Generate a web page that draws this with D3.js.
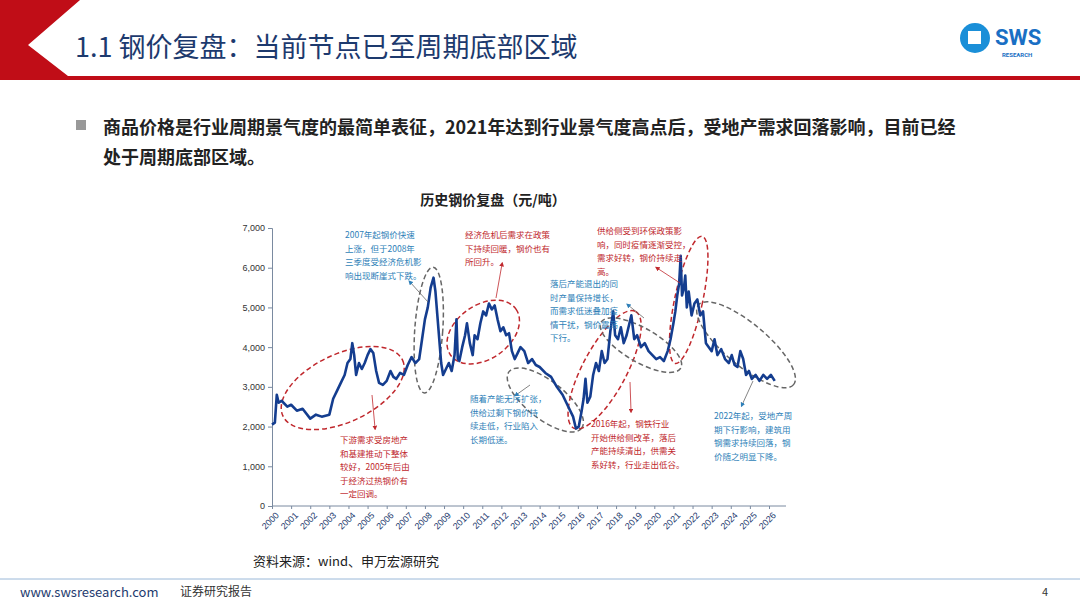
<!DOCTYPE html>
<html><head><meta charset="utf-8">
<script src="https://cdn.jsdelivr.net/npm/d3@7"></script>
<style>body{margin:0;background:#fff}svg{display:block;font-family:"Noto Sans CJK SC","Noto Sans",sans-serif}</style>
</head><body>
<script>
// Price series: [year offset, yuan/ton].
const years = [0,0.15,0.25,0.35,0.5,0.8,1.0,1.3,1.6,2.0,2.3,2.6,3.0,3.2,3.4,3.6,3.8,3.95,4.1,4.2,4.3,4.4,4.55,4.7,4.85,5.0,5.15,5.3,5.45,5.6,5.8,6.0,6.2,6.35,6.5,6.7,6.9,7.1,7.3,7.5,7.7,7.85,8.0,8.15,8.3,8.45,8.55,8.65,8.75,8.85,8.95,9.1,9.25,9.4,9.55,9.65,9.72,9.8,9.95,10.1,10.2,10.35,10.5,10.6,10.75,10.9,11.05,11.2,11.35,11.5,11.65,11.8,11.95,12.1,12.25,12.4,12.55,12.7,12.85,13.0,13.2,13.4,13.6,13.8,14.0,14.3,14.6,14.9,15.2,15.5,15.75,15.9,16.05,16.2,16.3,16.4,16.5,16.65,16.8,16.95,17.1,17.25,17.4,17.55,17.7,17.85,17.95,18.1,18.25,18.4,18.55,18.7,18.8,18.95,19.1,19.3,19.5,19.7,19.9,20.1,20.3,20.5,20.7,20.85,21.0,21.1,21.2,21.3,21.38,21.45,21.55,21.62,21.7,21.8,21.95,22.1,22.25,22.4,22.55,22.7,22.85,23.0,23.15,23.3,23.5,23.7,23.9,24.05,24.2,24.35,24.5,24.65,24.8,24.95,25.1,25.3,25.5,25.7,25.9,26.1,26.3];
const prices = [2050,2100,2800,2600,2650,2500,2550,2400,2450,2200,2300,2250,2300,2700,2900,3100,3300,3600,3700,4100,3800,3300,3600,3450,3600,3800,3950,3850,3400,3100,3050,3150,3400,3250,3200,3350,3300,3550,3750,3600,3700,4200,4700,5000,5500,5750,5400,4800,4200,3600,3300,3450,3600,3400,3800,4700,3700,3650,4000,4300,4600,4100,3800,4300,4200,4600,4900,4800,5100,4950,5050,4700,4400,4500,4300,4350,3900,3700,3850,4000,3900,3600,3700,3550,3500,3350,3250,3000,2800,2500,2250,1950,2000,2400,2700,3200,2600,2750,3300,3600,3400,3900,3600,3700,4400,4900,4300,4200,4500,4100,4300,4600,4800,4200,4300,4000,4100,3900,3800,3700,3750,3650,3900,4200,4600,4900,5300,5600,6300,5300,5500,5800,5000,5400,4800,5100,5200,4800,4900,4100,4000,3900,4200,3800,3950,3700,3600,3800,3550,3500,3900,3700,3300,3400,3200,3300,3150,3300,3200,3300,3150,3250,3100];
const yTicks = [0,1000,2000,3000,4000,5000,6000,7000];
const xYears = d3.range(2000, 2027);

// Dashed ellipses: [centre year offset, centre value, rx px, ry px, angle, colour]
const ellipses = [
  [3.7,2970,66,34,-25,"#c0282d"],
  [8.2,4430,14,63,4,"#666"],
  [11.05,4380,40,27,-35,"#c0282d"],
  [14.3,2670,46,19,38,"#666"],
  [17.4,3430,66,22,-62,"#c0282d"],
  [19.3,4050,46,17,30,"#666"],
  [21.8,5190,14,65,12,"#c0282d"],
  [24.8,4060,62,21,40,"#666"]
];

// Notes: x, y, colour, lines, arrow [x1,y1,x2,y2]
const notes = [
  [345,238,"#2e7fb8",["2007年起钢价快速","上涨，但于2008年","三季度受经济危机影","响出现断崖式下跌。"],[428,302,410,282]],
  [465,238,"#c0282d",["经济危机后需求在政策","下持续回暖，钢价也有","所回升。"],[496,298,502,264]],
  [597,234,"#c0282d",["供给侧受到环保政策影","响，同时疫情逐渐受控，","需求好转，钢价持续走","高。"],[680,283,657,268]],
  [550,287,"#2e7fb8",["落后产能退出的同","时产量保持增长，","而需求低迷叠加疫","情干扰，钢价震荡","下行。"],[644,318,628,305]],
  [340,443,"#c0282d",["下游需求受房地产","和基建推动下整体","较好，2005年后由","于经济过热钢价有","一定回调。"],[372,395,375,428]],
  [470,402,"#2e7fb8",["随着产能无序扩张，","供给过剩下钢价持","续走低，行业陷入","长期低迷。"],[530,385,516,395]],
  [591,427,"#c0282d",["2016年起，钢铁行业","开始供给侧改革，落后","产能持续清出，供需关","系好转，行业走出低谷。"],[630,382,631,411]],
  [714,419,"#2e7fb8",["2022年起，受地产周","期下行影响，建筑用","钢需求持续回落，钢","价随之明显下降。"],[753,381,742,405]]
];

const svg = d3.select("body").append("svg").attr("width", 1080).attr("height", 608);
const defs = svg.append("defs");
["#c0282d","#2e7fb8"].forEach((c, i) => {
  defs.append("marker").attr("id", "m" + i).attr("viewBox", "0 0 10 10")
    .attr("refX", 5).attr("refY", 5).attr("markerWidth", 6).attr("markerHeight", 6)
    .attr("orient", "auto").append("path").attr("d", "M0,0L10,5L0,10Z").attr("fill", c);
});

// Header
svg.append("path").attr("d", "M0,0 L80,0 L28,45 L68,76 L1080,76 L1080,80 L0,80 Z").attr("fill", "#c00d17");
svg.append("text").attr("x", 75).attr("y", 57).attr("font-size", 27).attr("fill", "#1d3a6e")
  .text("1.1 钢价复盘：当前节点已至周期底部区域");
svg.append("circle").attr("cx", 975).attr("cy", 38).attr("r", 15).attr("fill", "#1a8fd8");
svg.append("rect").attr("x", 968).attr("y", 31).attr("width", 13).attr("height", 13).attr("fill", "#fff");
svg.append("text").attr("x", 995).attr("y", 45).attr("font-size", 22).attr("font-weight", "bold")
  .attr("fill", "#1a6fc4").attr("font-family", "Roboto").text("SWS");
svg.append("text").attr("x", 1002).attr("y", 57).attr("font-size", 6).attr("font-weight", "bold")
  .attr("fill", "#1a6fc4").attr("font-family", "Roboto").text("RESEARCH");

// Bullet text
svg.append("rect").attr("x", 76).attr("y", 120).attr("width", 10).attr("height", 10).attr("fill", "#999");
[["商品价格是行业周期景气度的最简单表征，2021年达到行业景气度高点后，受地产需求回落影响，目前已经", 134],
 ["处于周期底部区域。", 164]].forEach(d => svg.append("text").attr("x", 103).attr("y", d[1])
  .attr("font-size", 18).attr("font-weight", "bold").attr("fill", "#222").text(d[0]));

svg.append("text").attr("x", 493).attr("y", 205).attr("text-anchor", "middle").attr("font-size", 14)
  .attr("font-weight", "bold").attr("fill", "#222").text("历史钢价复盘（元/吨）");

// Scales
const x = d3.scaleLinear().domain([0, 26]).range([272, 769]);
const y = d3.scaleLinear().domain([0, 7000]).range([506, 228]);

const yAxis = svg.append("g").attr("transform", "translate(272,0)")
  .call(d3.axisLeft(y).tickValues(yTicks).tickSize(4).tickFormat(d3.format(",")));
yAxis.selectAll("text").attr("font-size", 9).attr("fill", "#333");
const xAxis = svg.append("g").attr("transform", "translate(0,506)")
  .call(d3.axisBottom(x).tickValues(xYears.map(v => v - 2000)).tickSize(3).tickFormat(d => 2000 + d));
xAxis.select(".domain").attr("d", "M272,0H786");
xAxis.selectAll("text").attr("font-size", 9).attr("fill", "#1d3a6e")
  .attr("transform", "rotate(-45)").attr("text-anchor", "end").attr("dx", "-2").attr("dy", "6");
svg.selectAll(".domain, .tick line").attr("stroke", "#7a8aa0");

// Ellipses
svg.selectAll("ellipse.e").data(ellipses).join("ellipse")
  .attr("transform", d => `translate(${x(d[0])},${y(d[1])}) rotate(${d[4]})`)
  .attr("rx", d => d[2]).attr("ry", d => d[3]).attr("fill", "none")
  .attr("stroke", d => d[5]).attr("stroke-width", 1.5).attr("stroke-dasharray", "5,3");

// Price line
svg.append("path").datum(years.map((t, i) => [t, prices[i]]))
  .attr("fill", "none").attr("stroke", "#143d8f").attr("stroke-width", 2.6).attr("stroke-linejoin", "round")
  .attr("d", d3.line().x(d => x(d[0])).y(d => y(d[1])));

// Notes
notes.forEach(n => {
  const t = svg.append("text").attr("font-size", 8.5).attr("fill", n[2]);
  n[3].forEach((l, i) => t.append("tspan").attr("x", n[0]).attr("y", n[1] + i * 13.5).text(l));
  svg.append("line").attr("x1", n[4][0]).attr("y1", n[4][1]).attr("x2", n[4][2]).attr("y2", n[4][3])
    .attr("stroke", n[2] === "#c0282d" ? "#c0282d" : "#666").attr("stroke-width", 0.8)
    .attr("marker-end", `url(#m${n[2] === "#c0282d" ? 0 : 1})`);
});

// Source and footer
svg.append("text").attr("x", 253).attr("y", 566).attr("font-size", 13).attr("fill", "#222")
  .text("资料来源：wind、申万宏源研究");
svg.append("line").attr("x1", 0).attr("x2", 1080).attr("y1", 579).attr("y2", 579).attr("stroke", "#9ab8d8").attr("stroke-width", 1);
svg.append("text").attr("x", 20).attr("y", 597).attr("font-size", 13).attr("fill", "#1d3a6e").text("www.swsresearch.com");
svg.append("text").attr("x", 180).attr("y", 596).attr("font-size", 12).attr("fill", "#333").text("证券研究报告");
svg.append("text").attr("x", 1042).attr("y", 596).attr("font-size", 11).attr("fill", "#333").text("4");
</script>
</body></html>
